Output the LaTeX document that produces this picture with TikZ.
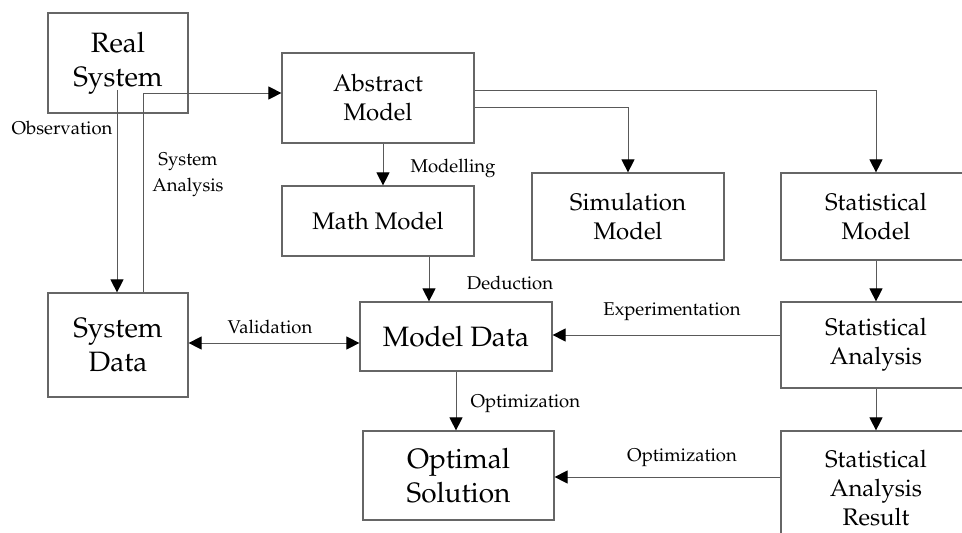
\documentclass[tikz,border=0pt]{standalone}
\usepackage[T1]{fontenc}
\usepackage{mathpazo}
\usetikzlibrary{arrows.meta}
\begin{document}
\begin{tikzpicture}
    [x=1pt,y=-1pt,
    block/.style={rectangle,draw=black!60,line width=1.2pt,inner sep=0pt,align=center,font=\fontsize{24}{29}\selectfont},
    bigblock/.style={block,font=\fontsize{28}{34}\selectfont},
    note/.style={align=center,font=\fontsize{18.5}{26}\selectfont},
    wire/.style={draw=black!65,line width=1pt},
    >={Triangle[length=13pt,width=13pt,color=black]}]

    \useasboundingbox (0,0) rectangle (962,533);

    % boxes
    \node[bigblock,minimum width=140,minimum height=100] (real) at (118,63) {Real\\System};
    \node[block,minimum width=192,minimum height=90] (abstract) at (378,98) {Abstract\\Model};
    \node[block,minimum width=192,minimum height=70] (math) at (378,221) {Math Model};
    \node[block,minimum width=192,minimum height=87] (sim) at (628,216.5) {Simulation\\Model};
    \node[block,minimum width=190,minimum height=87] (stat) at (876,216.5) {Statistical\\Model};
    \node[bigblock,minimum width=140,minimum height=104] (sysdata) at (118,345) {System\\Data};
    \node[bigblock,minimum width=192,minimum height=69] (modeldata) at (456,336.5) {Model Data};
    \node[bigblock,minimum width=191,minimum height=89] (optimal) at (458.5,475.5) {Optimal\\Solution};
    \node[block,minimum width=190,minimum height=86] (statana) at (876,345) {Statistical\\Analysis};
    \node[block,minimum width=190,minimum height=114] (result) at (876,488) {Statistical\\Analysis\\Result};

    % labels
    \node[note] (lobs) at (62,128) {Observation};
    \node[note] (lsa) at (188,175) {System\\Analysis};
    \node[note] (lmod) at (453,168) {Modelling};
    \node[note] (lded) at (510,283) {Deduction};
    \node[note] (lval) at (270,327) {Validation};
    \node[note] (lexp) at (672,312) {Experimentation};
    \node[note,anchor=west] (lopt) at (467,404) {Optimization};
    \node[note] (lstopt) at (682,458) {Optimization};

    \coordinate (obs) at (117,90);
    \coordinate (sa) at (143,93);
    \coordinate (val) at (275,343);
    \coordinate (exp) at (700,335);
    \coordinate (opt) at (700,477);

    \draw[wire,->] (obs) -- (obs |- sysdata.north);
    \draw[wire,->] (sa |- sysdata.north) -- (sa) -- (sa -| abstract.west);
    \draw[wire,->] ([xshift=5pt]abstract.south) -- ([xshift=5pt]math.north);
    \draw[wire,->] ([yshift=-9pt]abstract.east) -| (sim.north);
    \draw[wire,->] ([yshift=8pt]abstract.east) -| (stat.north);
    \draw[wire,->] ([xshift=51pt]math.south) -- ([xshift=51pt]math.south |- modeldata.north);
    \draw[wire,<->] (sysdata.east |- val) -- (modeldata.west |- val);
    \draw[wire,->] (statana.west |- exp) -- (modeldata.east |- exp);
    \draw[wire,->] (modeldata.south) -- (modeldata.south |- optimal.north);
    \draw[wire,->] (stat.south) -- (statana.north);
    \draw[wire,->] (statana.south) -- (result.north);
    \draw[wire,->] (result.west |- opt) -- (optimal.east |- opt);
\end{tikzpicture}
\end{document}
